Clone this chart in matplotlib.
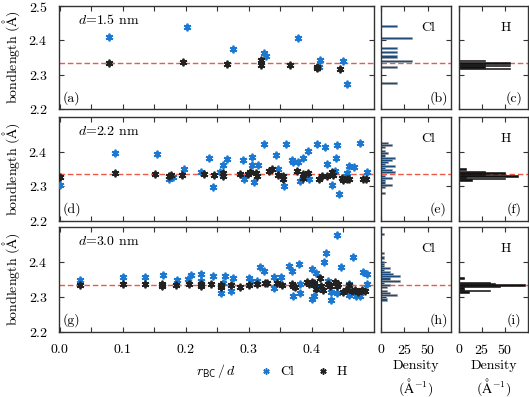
import numpy as np
import matplotlib
matplotlib.use("Agg")
import matplotlib.pyplot as plt
from matplotlib.ticker import MultipleLocator

plt.rcParams['font.family'] = ['cmr10', 'DejaVu Serif']
plt.rcParams['mathtext.fontset'] = 'cm'
plt.rcParams['axes.formatter.use_mathtext'] = True
plt.rcParams['font.size'] = 10

# ==============================
# Data
# ==============================
diam_labels = ["$d$=1.5 nm", "$d$=2.2 nm", "$d$=3.0 nm"]
panel_tags = [("(a)", "(b)", "(c)"), ("(d)", "(e)", "(f)"), ("(g)", "(h)", "(i)")]
ref_bond = 2.335

cl_x_15 = [0.078, 0.2016, 0.275, 0.325, 0.3275, 0.379, 0.413, 0.412, 0.449, 0.456]
cl_y_15 = [2.409, 2.440, 2.375, 2.362, 2.355, 2.408, 2.343, 2.323, 2.340, 2.272]
h_x_15 = [0.079, 0.196, 0.266, 0.320, 0.320, 0.366, 0.408, 0.409, 0.445]
h_y_15 = [2.333, 2.336, 2.330, 2.343, 2.328, 2.328, 2.319, 2.323, 2.317]

cl_x_22 = [0.0, 0.0878, 0.154, 0.173, 0.1805, 0.198, 0.225, 0.237, 0.243, 0.255,
           0.259, 0.266, 0.2916, 0.293, 0.305, 0.306, 0.309, 0.315, 0.324, 0.344,
           0.347, 0.3596, 0.3685, 0.371, 0.378, 0.356, 0.3817, 0.386, 0.394, 0.3966,
           0.408, 0.422, 0.424, 0.432, 0.439, 0.441, 0.4437, 0.4375, 0.456, 0.4596,
           0.4675, 0.4763, 0.4886]
cl_y_22 = [2.305, 2.397, 2.392, 2.322, 2.327, 2.349, 2.342, 2.381, 2.297, 2.342,
           2.361, 2.378, 2.375, 2.322, 2.361, 2.385, 2.312, 2.361, 2.423, 2.390,
           2.349, 2.421, 2.376, 2.370, 2.370, 2.302, 2.315, 2.383, 2.402, 2.320,
           2.421, 2.414, 2.363, 2.305, 2.383, 2.418, 2.278, 2.344, 2.339, 2.358,
           2.355, 2.426, 2.340]
h_x_22 = [0.0, 0.0878, 0.151, 0.174, 0.176, 0.195, 0.229, 0.245, 0.259, 0.260,
          0.286, 0.2996, 0.302, 0.312, 0.313, 0.332, 0.337, 0.3459, 0.355, 0.355,
          0.376, 0.387, 0.395, 0.387, 0.412, 0.416, 0.424, 0.432, 0.4335, 0.4476,
          0.450, 0.456, 0.460, 0.4818, 0.4859]
h_y_22 = [2.327, 2.339, 2.337, 2.329, 2.332, 2.332, 2.336, 2.332, 2.339, 2.329,
          2.336, 2.337, 2.342, 2.339, 2.329, 2.344, 2.349, 2.334, 2.329, 2.322,
          2.344, 2.337, 2.339, 2.324, 2.322, 2.329, 2.331, 2.341, 2.334, 2.324,
          2.317, 2.320, 2.322, 2.322, 2.322]

cl_x_30 = [0.033, 0.100, 0.135, 0.164, 0.187, 0.204, 0.209, 0.225, 0.225, 0.243,
           0.256, 0.2595, 0.262, 0.272, 0.275, 0.300, 0.304, 0.313, 0.318, 0.325,
           0.3396, 0.351, 0.3396, 0.3648, 0.3686, 0.3806, 0.381, 0.381, 0.370, 0.400,
           0.407, 0.400, 0.4036, 0.412, 0.420, 0.4227, 0.426, 0.430, 0.4398, 0.4465,
           0.441, 0.465, 0.4596, 0.4596, 0.471, 0.476, 0.4818, 0.4886, 0.4886, 0.4306]
cl_y_30 = [2.348, 2.356, 2.358, 2.364, 2.349, 2.351, 2.364, 2.366, 2.346, 2.361,
           2.312, 2.341, 2.361, 2.317, 2.353, 2.353, 2.346, 2.346, 2.385, 2.373,
           2.356, 2.356, 2.326, 2.388, 2.375, 2.395, 2.336, 2.312, 2.302, 2.380,
           2.368, 2.294, 2.304, 2.326, 2.400, 2.426, 2.346, 2.292, 2.312, 2.385,
           2.478, 2.413, 2.336, 2.307, 2.302, 2.302, 2.371, 2.366, 2.336, 2.314]
h_x_30 = [0.033, 0.100, 0.135, 0.162, 0.162, 0.185, 0.205, 0.224, 0.224, 0.240,
          0.256, 0.256, 0.272, 0.287, 0.300, 0.313, 0.326, 0.329, 0.345, 0.3526,
          0.3686, 0.371, 0.374, 0.392, 0.396, 0.400, 0.403, 0.4036, 0.407, 0.413,
          0.4148, 0.418, 0.426, 0.429, 0.437, 0.440, 0.4413, 0.449, 0.4544, 0.460,
          0.4633, 0.4686, 0.474, 0.4792, 0.4844]
h_y_30 = [2.334, 2.336, 2.336, 2.338, 2.331, 2.334, 2.336, 2.338, 2.331, 2.336,
          2.334, 2.328, 2.334, 2.329, 2.333, 2.336, 2.339, 2.341, 2.341, 2.333,
          2.338, 2.331, 2.329, 2.344, 2.338, 2.344, 2.341, 2.333, 2.322, 2.353,
          2.331, 2.319, 2.338, 2.331, 2.344, 2.331, 2.338, 2.314, 2.319, 2.333,
          2.317, 2.320, 2.314, 2.320, 2.317]

cl_sets = [(cl_x_15, cl_y_15), (cl_x_22, cl_y_22), (cl_x_30, cl_y_30)]
h_sets = [(h_x_15, h_y_15), (h_x_22, h_y_22), (h_x_30, h_y_30)]

# ==============================
# Figure
# ==============================
W, H = 529, 397
fig = plt.figure(figsize=(W / 100, H / 100), dpi=100)

blue = "#1c78d0"
dark = "#222222"
red = "#ef5a48"
star = (6, 2, 0)

rows = [(6, 109), (117, 221), (227, 332)]
cols = [(59, 374), (381, 451), (459, 528)]


def make_ax(c, r):
    x0, x1 = cols[c]
    y0, y1 = rows[r]
    return fig.add_axes([x0 / W, 1 - y1 / H, (x1 - x0) / W, (y1 - y0) / H])


def style(ax):
    ax.tick_params(which="both", direction="in", top=True, right=True,
                   length=3.5, width=0.8, color="#333333", labelsize=10, pad=8)
    for s in ax.spines.values():
        s.set_color("#333333")
        s.set_linewidth(1.0)


bins_cl = np.arange(2.2, 2.5, 0.006)
bins_h = np.arange(2.2, 2.5, 0.004)

for r in range(3):
    ax = make_ax(0, r)
    cx, cy = cl_sets[r]
    hx, hy = h_sets[r]
    ax.axhline(ref_bond, color=red, lw=1.0, dashes=(4, 2), zorder=1)
    ax.plot(cx, cy, ls="none", marker=star, ms=5.5, mew=1.3, color=blue, zorder=3)
    ax.plot(hx, hy, ls="none", marker=star, ms=5.5, mew=1.3, color=dark, zorder=4)
    ax.set_xlim(-0.001, 0.499)
    ax.xaxis.set_major_locator(MultipleLocator(0.1))
    ax.xaxis.set_minor_locator(MultipleLocator(0.05))
    style(ax)
    ax.tick_params(which="minor", length=3.5)
    ax.set_yticks([2.2, 2.3, 2.4, 2.5] if r == 0 else [2.2, 2.3, 2.4])
    ax.set_ylim(2.2, 2.5)
    ax.set_ylabel("bondlength ($\\mathrm{\\AA}$)", fontsize=10)
    ax.yaxis.set_label_coords(-0.118, 0.5)
    if r < 2:
        ax.set_xticklabels([])
    else:
        ax.set_xticks([0.0, 0.1, 0.2, 0.3, 0.4])
        ax.set_xlabel("$r_{\\mathsf{BC}}\\,/\\,d$", fontsize=10)
        ax.xaxis.set_label_coords(0.5, -0.29)
    ax.text(0.06, 0.865, diam_labels[r], transform=ax.transAxes, fontsize=10,
            va="center", ha="left")
    ax.text(0.013, 0.11, panel_tags[r][0], transform=ax.transAxes, fontsize=10,
            va="center", ha="left")

    # histograms
    for c, (vals, bins, fc, ec, name) in enumerate(
            [(cy, bins_cl, "#1d4b7c", "#a0a0a0", "Cl"),
             (hy, bins_h, "#111111", "#111111", "H")]):
        hax = make_ax(c + 1, r)
        hax.axhline(ref_bond, color=red, lw=1.0, dashes=(4, 2), zorder=1)
        hax.hist(vals, bins=bins, density=True, orientation="horizontal",
                 color=fc, edgecolor=ec, linewidth=0.4, zorder=2)
        hax.set_ylim(2.2, 2.5)
        hax.set_xlim(0, 75)
        hax.set_xticks([0, 25, 50])
        hax.set_yticks([2.3, 2.4])
        hax.set_yticklabels([])
        style(hax)
        hax.text(0.68, 0.79, name, transform=hax.transAxes, fontsize=10,
                 ha="center", va="center")
        hax.text(0.82 if c == 0 else 0.8, 0.11, panel_tags[r][c + 1],
                 transform=hax.transAxes, fontsize=10, ha="center", va="center")
        if r < 2:
            hax.set_xticklabels([])
        else:
            hax.set_xlabel("Density\n($\\mathrm{\\AA}^{\\mathtt{-1}}$)",
                           fontsize=10, linespacing=1.25)
            hax.xaxis.set_label_coords(0.5, -0.27)

# legend
fig.legend(handles=[
    plt.Line2D([], [], ls="none", marker=star, ms=4.5, mew=1.1, color=blue, label="Cl"),
    plt.Line2D([], [], ls="none", marker=star, ms=4.5, mew=1.1, color=dark, label="H")],
    loc="center", bbox_to_anchor=(303 / W, 1 - 372 / H), ncol=2, frameon=False,
    fontsize=10, handlelength=1.0, handletextpad=0.5, columnspacing=1.6)

fig.savefig("out.png", dpi=100)
